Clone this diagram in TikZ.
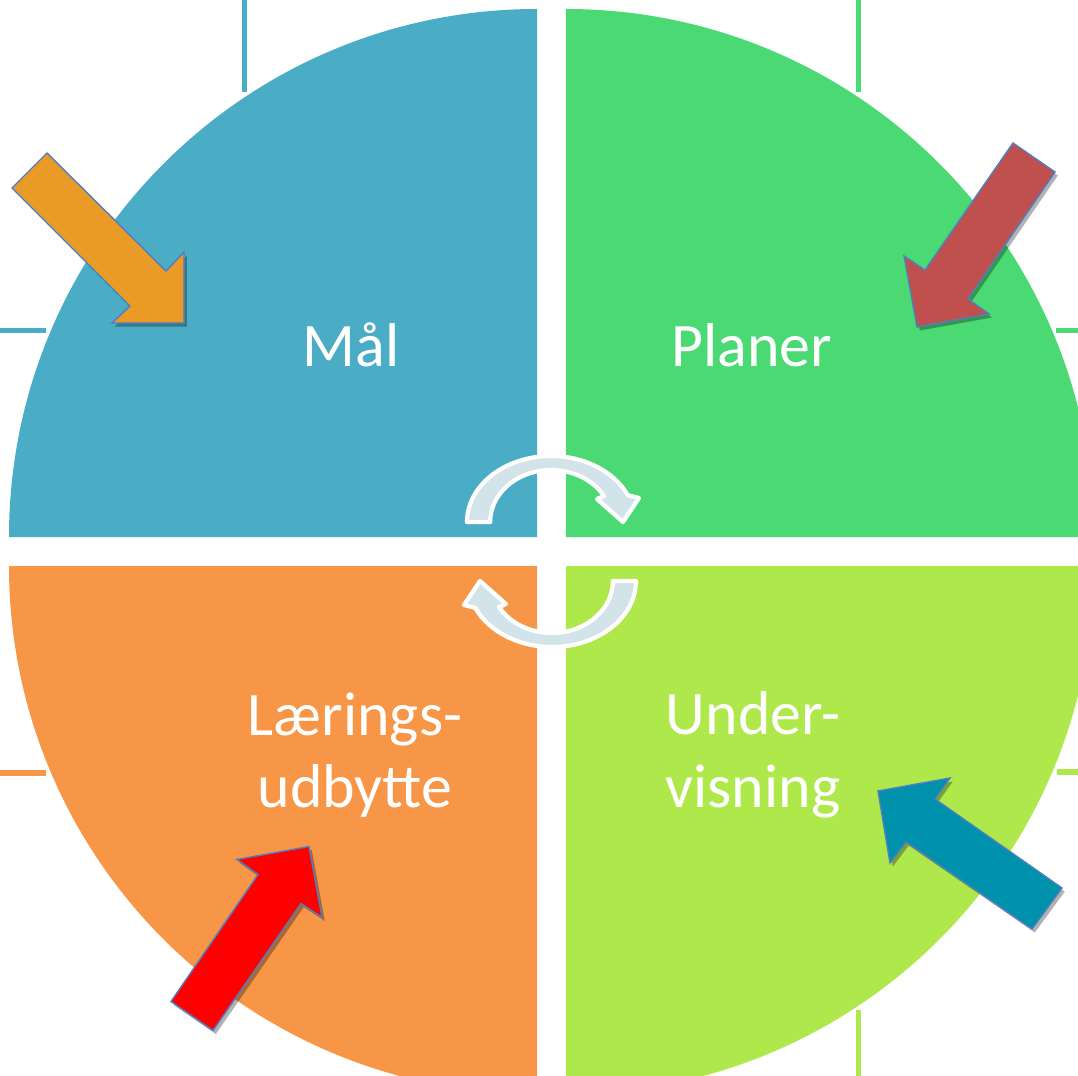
\documentclass[tikz,border=0pt]{standalone}
\usepackage{fontspec}
\setmainfont{Carlito}
\usetikzlibrary{shadows}

\definecolor{maalblue}{HTML}{4BACC6}
\definecolor{planergreen}{HTML}{4AD973}
\definecolor{laeringorange}{HTML}{F79646}
\definecolor{undervislime}{HTML}{AEE84A}
\definecolor{cyclefill}{HTML}{D2E3EA}
\definecolor{arrowedge}{HTML}{4F7FC0}
\definecolor{pilorange}{HTML}{E99A27}
\definecolor{pilbrown}{HTML}{C0504D}
\definecolor{pilred}{HTML}{FF0000}
\definecolor{pilteal}{HTML}{0091AC}

\begin{document}
\begin{tikzpicture}[x=0.025cm, y=-0.025cm,
  quadlabel/.style={text=white, align=center, font=\fontsize{44}{51.5}\selectfont},
  frameline/.style={line width=4pt},
  blockarrow/.style={draw=arrowedge, line width=1pt, line join=miter,
    drop shadow={shadow xshift=2pt, shadow yshift=-2.5pt, opacity=.3, fill=black}},
  cyclearrow/.style={fill=cyclefill, draw=white, line width=3pt, line join=round}]
\useasboundingbox (0,0) rectangle (1078,1076);
\clip (0,0) rectangle (1078,1076);
% frame lines behind the circle
\draw[frameline, maalblue] (244.5,0) -- (244.5,92) (0,330.5) -- (46,330.5);
\draw[frameline, planergreen] (858.5,0) -- (858.5,92) (1056,330.5) -- (1078,330.5);
\draw[frameline, laeringorange] (0,773) -- (46,773);
\draw[frameline, undervislime] (858.5,1010) -- (858.5,1076) (1057,772) -- (1078,772);
% quadrants
\fill[maalblue] (537,537) -- (9,537) arc[start angle=180, end angle=270, radius=528] -- cycle;
\fill[planergreen] (566,537) -- (566,9) arc[start angle=270, end angle=360, radius=528] -- cycle;
\fill[laeringorange] (537,566) -- (9,566) arc[start angle=180, end angle=90, radius=528] -- cycle;
\fill[undervislime] (566,566) -- (1094,566) arc[start angle=0, end angle=90, radius=528] -- cycle;
% cycle arrows in the middle
\path[cyclearrow] (467,522) arc[start angle=180, end angle=336, x radius=84, y radius=66]
  -- (639,498) -- (623,522) -- (597,499) -- (604,496)
  arc[start angle=330, end angle=180, x radius=61, y radius=52] -- cycle;
\path[cyclearrow, rotate around={180:(551.5,551.5)}] (467,522) arc[start angle=180, end angle=336, x radius=84, y radius=66]
  -- (639,498) -- (623,522) -- (597,499) -- (604,496)
  arc[start angle=330, end angle=180, x radius=61, y radius=52] -- cycle;
% labels
\node[quadlabel, anchor=base] (maal) at (351,366) {Mål};
\node[quadlabel, anchor=base] (planer) at (752,366) {Planer};
\node[quadlabel] (laering) at (355,755) {Lærings-\\udbytte};
\node[quadlabel] (undervisning) at (753,755) {Under-\\visning};
% block arrows
\filldraw[blockarrow, fill=pilorange] (12,188) -- (47,153) -- (166,271) -- (184,252)
  -- (184,323) -- (112,323) -- (130,306) -- cycle;
\filldraw[blockarrow, fill=pilbrown] (1013,143) -- (1055,172) -- (968,299) -- (989,314)
  -- (917,327) -- (904,256) -- (925,270) -- cycle;
\filldraw[blockarrow, fill=pilred] (213,1030.5) -- (171,1001.5) -- (258,874.5) -- (237,859.5)
  -- (309,846.5) -- (322,917.5) -- (301,903.5) -- cycle;
\filldraw[blockarrow, fill=pilteal] (1062,888) -- (1032,929) -- (906,842) -- (890,863)
  -- (878,791) -- (950,778) -- (935,799) -- cycle;
\end{tikzpicture}
\end{document}
